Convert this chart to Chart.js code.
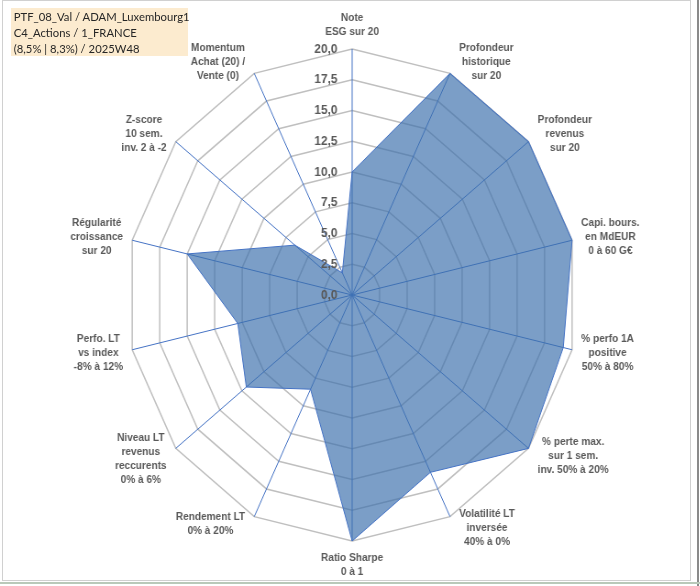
<!DOCTYPE html>
<html>
<head>
<meta charset="utf-8">
<script src="https://cdn.jsdelivr.net/npm/chart.js@4.4.1/dist/chart.umd.min.js"></script>
<style>
  html, body { margin: 0; padding: 0; background: #fff; }
  #frame { position: absolute; left: 0; top: 0; width: 700px; height: 586px; overflow: hidden; }
  #wrap { position: absolute; left: 0; top: 0; width: 763px; height: 586px; transform: scaleX(0.917); transform-origin: 0 0; }
  #border { position: absolute; left: 2px; top: 0; width: 689px; height: 581px; border: 1px solid #d0d0d0; box-sizing: border-box; }
  #edge { position: absolute; left: 697px; top: 0; width: 2px; height: 586px; background: #8a8a8a; }
  #bottom { position: absolute; left: 0; top: 582px; width: 700px; height: 2px; background: #b9c9b9; }
  #title {
    position: absolute; left: 12px; top: 8px; width: 193px; height: 48px;
    background: #fcebcf; color: #262626; font: 12.3px Lato, "Open Sans", sans-serif;
    line-height: 16px; padding: 1px 0 0 3px; box-sizing: border-box; white-space: nowrap;
  }
  canvas { position: absolute; left: 0; top: 0; }
</style>
</head>
<body>
<div id="frame">
  <div id="border"></div>
  <div id="edge"></div>
  <div id="bottom"></div>
  <div id="wrap">
    <canvas id="radar" width="763" height="586"></canvas>
    <div id="title">PTF_08_Val / ADAM_Luxembourg1<br>C4_Actions / 1_FRANCE<br>(8,5% | 8,3%) / 2025W48</div>
  </div>
</div>
<script>
const axisLabels = [
  ['Note', 'ESG sur 20'],
  ['Profondeur', 'historique', 'sur 20'],
  ['Profondeur', 'revenus', 'sur 20'],
  ['Capi. bours.', 'en MdEUR', '0 à 60 G€'],
  ['% perfo 1A', 'positive', '50% à 80%'],
  ['% perte max.', 'sur 1 sem.', 'inv. 50% à 20%'],
  ['Volatilité LT', 'inversée', '40% à 0%'],
  ['Ratio Sharpe', '0 à 1'],
  ['Rendement LT', '0% à 20%'],
  ['Niveau LT', 'revenus', 'reccurents', '0% à 6%'],
  ['Perfo. LT', 'vs index', '-8% à 12%'],
  ['Régularité', 'croissance', 'sur 20'],
  ['Z-score', '10 sem.', 'inv. 2 à -2'],
  ['Momentum', 'Achat (20) /', 'Vente (0)']
]
const scores = [10, 20, 20, 20, 19.2, 20, 16, 20, 8.5, 12, 10.4, 15, 6.5, 2]
const tickValues = [0, 2.5, 5, 7.5, 10, 12.5, 15, 17.5, 20]
const tickLabels = ['0,0', '2,5', '5,0', '7,5', '10,0', '12,5', '15,0', '17,5', '20,0']

const textColor = '#595959'

// tick labels sit left of the vertical axis, axis labels are centred blocks like Excel
const radarText = {
  id: 'radarText',
  afterDatasetsDraw(chart) {
    const scale = chart.scales.r
    const ctx = chart.ctx
    ctx.save()
    ctx.fillStyle = textColor
    ctx.textBaseline = 'middle'

    ctx.font = 'bold 13px "Liberation Sans", Arial, sans-serif'
    ctx.textAlign = 'right'
    tickValues.forEach((v, i) => {
      const y = scale.yCenter - scale.getDistanceFromCenterForValue(v)
      ctx.fillText(tickLabels[i], scale.xCenter - 16, y)
    })

    ctx.font = 'bold 11px "Liberation Sans", Arial, sans-serif'
    ctx.textAlign = 'center'
    const lh = 14
    const pad = 10
    const n = chart.data.labels.length
    chart.data.labels.forEach((lines, i) => {
      const p = scale.getPointPosition(i, scale.drawingArea)
      const a = i * 2 * Math.PI / n
      const s = Math.sin(a)
      const c = Math.cos(a)
      const h = lines.length * lh
      const w = Math.max(...lines.map(t => ctx.measureText(t).width))
      let cx, cy
      if (Math.abs(s) > 0.3) {
        cx = p.x + Math.sign(s) * (pad + w / 2)
        cy = p.y - c * h * 0.3
      } else {
        cx = p.x
        cy = p.y - c * (pad + h / 2)
      }
      lines.forEach((t, k) => ctx.fillText(t, cx, cy - h / 2 + lh * (k + 0.5)))
    })
    ctx.restore()
  }
}

const radar = new Chart(document.getElementById('radar').getContext('2d'), {
  type: 'radar',
  data: {
    labels: axisLabels,
    datasets: [{
      data: scores,
      fill: true,
      backgroundColor: 'rgba(60,112,172,0.68)',
      borderColor: '#4472C4',
      borderWidth: 1,
      pointRadius: 0
    }]
  },
  options: {
    responsive: false,
    animation: false,
    layout: { padding: { top: 49, bottom: 45, left: 6, right: 0 } },
    plugins: { legend: { display: false }, tooltip: { enabled: false } },
    scales: {
      r: {
        min: 0,
        max: 20,
        ticks: { stepSize: 2.5, display: false },
        pointLabels: { display: false },
        grid: { color: '#BFBFBF', lineWidth: 1.5 },
        angleLines: { color: '#4472C4', lineWidth: 1 }
      }
    },
    elements: { line: { tension: 0 } }
  },
  plugins: [radarText]
})
</script>
</body>
</html>
